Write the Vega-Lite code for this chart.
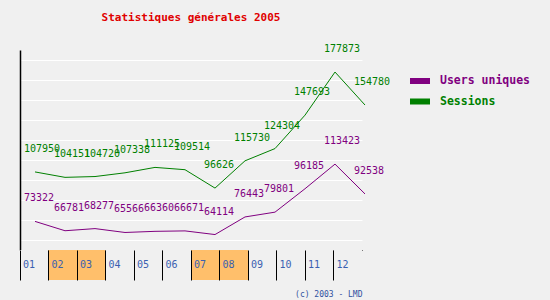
{
  "$schema": "https://vega.github.io/schema/vega-lite/v6.json",
  "background": "#f0f0f0",
  "autosize": {"type": "none"},
  "padding": {"left": 20, "top": 50, "right": 188, "bottom": 250},
  "config": {"view": {"stroke": null}},
  "datasets": {
    "stats": [
      {"m": 1, "Users uniques": 73322, "Sessions": 107950},
      {"m": 2, "Users uniques": 66781, "Sessions": 104151},
      {"m": 3, "Users uniques": 68277, "Sessions": 104720},
      {"m": 4, "Users uniques": 65566, "Sessions": 107338},
      {"m": 5, "Users uniques": 66360, "Sessions": 111125},
      {"m": 6, "Users uniques": 66671, "Sessions": 109514},
      {"m": 7, "Users uniques": 64114, "Sessions": 96626},
      {"m": 8, "Users uniques": 76443, "Sessions": 115730},
      {"m": 9, "Users uniques": 79801, "Sessions": 124304},
      {"m": 10, "Users uniques": 96185, "Sessions": 147693},
      {"m": 11, "Users uniques": 113423, "Sessions": 177873},
      {"m": 12, "Users uniques": 92538, "Sessions": 154780}
    ]
  },
  "spacing": 0,
  "vconcat": [
    {
      "width": 342,
      "height": 200,
      "title": {
        "text": "Statistiques générales 2005",
        "color": "#e00000",
        "font": "DejaVu Sans Mono",
        "fontSize": 11,
        "fontWeight": "bold",
        "anchor": "middle",
        "offset": 21
      },
      "data": {"name": "stats"},
      "transform": [{"fold": ["Users uniques", "Sessions"], "as": ["serie", "valeur"]}],
      "encoding": {
        "x": {
          "field": "m",
          "type": "quantitative",
          "scale": {"domain": [0.5, 11.9], "nice": false, "zero": false},
          "axis": {"domainColor": "black", "domainWidth": 1, "ticks": false, "labels": false, "grid": false, "title": null}
        },
        "y": {
          "field": "valeur",
          "type": "quantitative",
          "scale": {"domain": [53300, 193300], "nice": false, "zero": false},
          "axis": {
            "domainColor": "black",
            "domainWidth": 1.5,
            "ticks": false,
            "labels": false,
            "grid": true,
            "gridColor": "white",
            "gridOpacity": 1,
            "gridWidth": 1,
            "values": [60300, 74300, 88300, 102300, 116300, 130300, 144300, 158300, 172300, 186300],
            "title": null
          }
        },
        "color": {
          "field": "serie",
          "type": "nominal",
          "scale": {"domain": ["Users uniques", "Sessions"], "range": ["#800080", "#008000"]},
          "legend": {
            "orient": "none",
            "legendX": 387,
            "legendY": 21,
            "title": null,
            "padding": 0,
            "symbolType": "stroke",
            "symbolSize": 400,
            "symbolStrokeWidth": 6,
            "labelFont": "DejaVu Sans Mono",
            "labelFontSize": 11.5,
            "labelFontWeight": "bold",
            "labelColor": {"expr": "datum.label == 'Sessions' ? '#008000' : '#800080'"},
            "labelOffset": 7,
            "clipHeight": 20,
            "rowPadding": 0.5
          }
        }
      },
      "layer": [
        {"mark": {"type": "line", "strokeWidth": 1, "clip": false}},
        {
          "mark": {"type": "text", "align": "left", "baseline": "middle", "dx": -11, "dy": -23, "font": "DejaVu Sans Mono", "fontSize": 10},
          "encoding": {"text": {"field": "valeur", "type": "quantitative", "format": "d"}}
        }
      ]
    },
    {
      "width": 342,
      "height": 30,
      "data": {"name": "stats"},
      "encoding": {
        "x": {
          "field": "m",
          "type": "ordinal",
          "scale": {"paddingInner": 0, "paddingOuter": 0},
          "axis": {
            "bandPosition": 0,
            "grid": true,
            "gridColor": "black",
            "gridOpacity": 1,
            "gridWidth": 1,
            "zindex": 1,
            "domain": false,
            "ticks": false,
            "labels": false,
            "title": "(c) 2003 - LMD",
            "titleAnchor": "end",
            "titleFont": "DejaVu Sans Mono",
            "titleFontSize": 8,
            "titleFontWeight": "normal",
            "titleColor": "#3050a0",
            "titlePadding": 10
          }
        }
      },
      "layer": [
        {
          "mark": {"type": "bar"},
          "encoding": {
            "color": {"condition": {"test": "indexof([2,3,7,8], datum.m) >= 0", "value": "#ffbf6b"}, "value": "#f0f0f0"}
          }
        },
        {
          "mark": {"type": "text", "align": "left", "baseline": "middle", "dx": 3, "font": "DejaVu Sans Mono", "fontSize": 10, "color": "#3a60b0"},
          "encoding": {
            "x": {"field": "m", "type": "ordinal", "bandPosition": 0},
            "text": {"field": "m", "type": "quantitative", "format": "02d"}
          }
        }
      ]
    }
  ]
}
